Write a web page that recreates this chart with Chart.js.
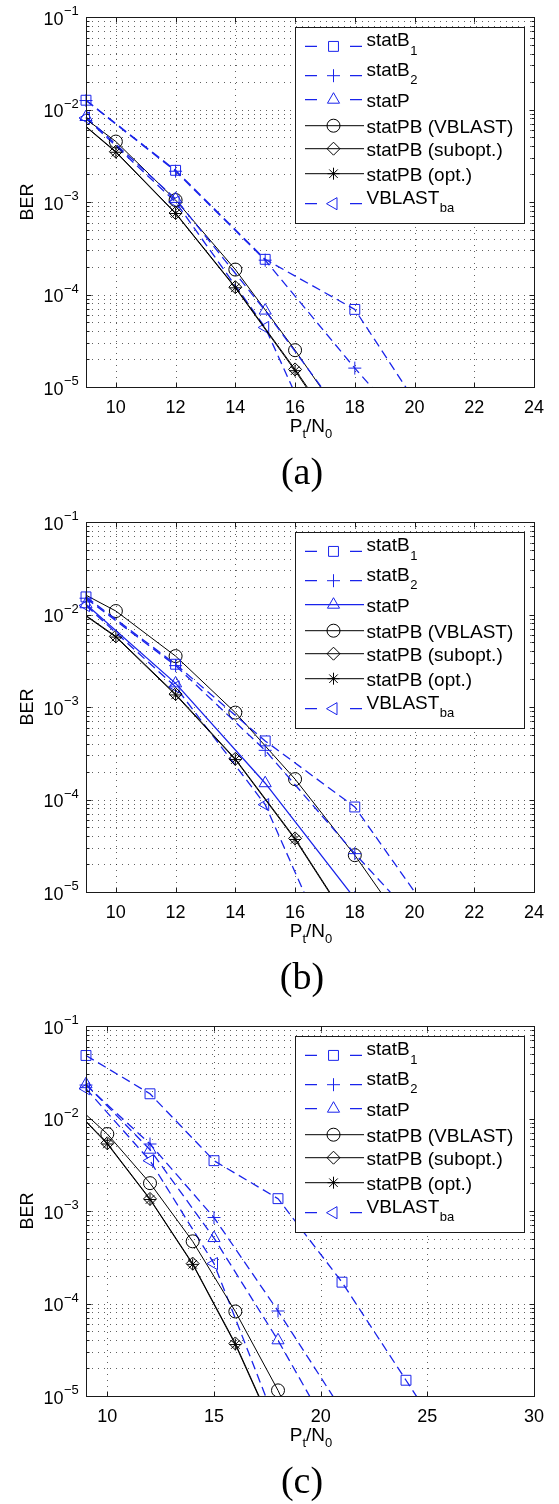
<!DOCTYPE html>
<html>
<head>
<meta charset="utf-8">
<script src="https://cdn.jsdelivr.net/npm/chart.js@4.4.1/dist/chart.umd.min.js"></script>
<style>
  html, body { margin: 0; padding: 0; background: #fff; overflow: hidden; }
  canvas { position: absolute; left: 0; }
</style>
</head>
<body>
<canvas id="chartA" width="559" height="495" style="top:0px"></canvas>
<canvas id="chartB" width="559" height="495" style="top:505px"></canvas>
<canvas id="chartC" width="559" height="495" style="top:1009px"></canvas>
<script>
// x positions of the simulated points (Pt/N0)
const xStep3 = [9, 12, 15, 18, 21, 24, 27];
const xStep2 = [8, 10, 12, 14, 16, 18, 20];

// tick labels
const yTickExponents = [-5, -4, -3, -2, -1];
const xTicksAB = [10, 12, 14, 16, 18, 20, 22, 24];
const xTicksC = [10, 15, 20, 25, 30];

// legend names (main text + subscript)
const seriesNames = ['statB', 'statB', 'statP', 'statPB (VBLAST)', 'statPB (subopt.)', 'statPB (opt.)', 'VBLAST'];
const seriesSubs = ['1', '2', '', '', '', '', 'ba'];

// BER values, panel (a)
const aStatB1 = [1.26e-2, 2.2e-3, 2.4e-4, 6.9e-5, 2.3e-6];
const aStatB2 = [1.25e-2, 2.15e-3, 2.35e-4, 1.6e-5, 1.3e-6];
const aStatP = [8.3e-3, 1.08e-3, 6.7e-5, 3.2e-6];
const aVblastBa = [8.1e-3, 1.0e-3, 4.4e-5, 3.2e-7];
const aPbVblast = [1.38e-2, 4.5e-3, 1.05e-3, 1.86e-4, 2.5e-5, 2.9e-6];
const aPbSubopt = [1.23e-2, 3.5e-3, 7.6e-4, 1.2e-4, 1.55e-5, 1.8e-6];
const aPbOpt = [1.22e-2, 3.45e-3, 7.5e-4, 1.18e-4, 1.5e-5, 1.7e-6];

// panel (b)
const bStatB1 = [1.55e-2, 2.9e-3, 4.3e-4, 8.3e-5, 3.5e-6];
const bStatB2 = [1.5e-2, 2.8e-3, 3.4e-4, 2.6e-5, 2.3e-6];
const bStatP = [1.29e-2, 1.8e-3, 1.5e-4, 8.5e-6];
const bVblastBa = [1.25e-2, 1.65e-3, 8.8e-5, 5.7e-7];
const bPbVblast = [2.4e-2, 1.09e-2, 3.55e-3, 8.7e-4, 1.66e-4, 2.5e-5, 3e-6];
const bPbSubopt = [1.64e-2, 5.8e-3, 1.38e-3, 2.75e-4, 3.8e-5, 3.8e-6];
const bPbOpt = [1.62e-2, 5.7e-3, 1.35e-3, 2.7e-4, 3.7e-5, 3.7e-6];

// panel (c)
const cStatB1 = [4.8e-2, 1.85e-2, 3.5e-3, 1.36e-3, 1.7e-4, 1.48e-5, 1.3e-6];
const cStatB2 = [2.3e-2, 5.3e-3, 8.5e-4, 8.3e-5, 7e-6];
const cStatP = [2.35e-2, 4.6e-3, 5.1e-4, 4.0e-5, 2.4e-6];
const cVblastBa = [2.1e-2, 3.5e-3, 2.7e-4, 4.5e-6];
const cPbVblast = [1.78e-2, 6.8e-3, 2.0e-3, 4.7e-4, 8.2e-5, 1.15e-5, 1.2e-6];
const cPbSubopt = [1.62e-2, 5.4e-3, 1.35e-3, 2.7e-4, 3.7e-5, 3.5e-6];
const cPbOpt = [1.6e-2, 5.3e-3, 1.33e-3, 2.65e-4, 3.6e-5, 3.4e-6];

const BLUE = 'rgb(25,35,235)';
const BLACK = '#000';
const FONT = '"Liberation Sans", Arial, sans-serif';

// line/marker style per series, same order as seriesNames
const seriesStyle = [
  { color: BLUE, dashed: true, marker: 'rect', r: 7, rot: 0, step: 3 },
  { color: BLUE, dashed: true, marker: 'cross', r: 6.5, rot: 0, step: 3 },
  { color: BLUE, dashed: true, marker: 'triangle', r: 7, rot: 0, step: 3 },
  { color: BLACK, dashed: false, marker: 'circle', r: 6.5, rot: 0, step: 2 },
  { color: BLACK, dashed: false, marker: 'rectRot', r: 6.5, rot: 0, step: 2 },
  { color: BLACK, dashed: false, marker: 'star', r: 6, rot: 0, step: 2 },
  { color: BLUE, dashed: true, marker: 'triangle', r: 7, rot: -90, step: 3 }
];

const panels = [
  { id: 'chartA', tag: '(a)', xMax: 24, xTicks: xTicksAB, solidStatP: false,
    series: [aStatB1, aStatB2, aStatP, aPbVblast, aPbSubopt, aPbOpt, aVblastBa] },
  { id: 'chartB', tag: '(b)', xMax: 24, xTicks: xTicksAB, solidStatP: true,
    series: [bStatB1, bStatB2, bStatP, bPbVblast, bPbSubopt, bPbOpt, bVblastBa] },
  { id: 'chartC', tag: '(c)', xMax: 30, xTicks: xTicksC, solidStatP: false,
    series: [cStatB1, cStatB2, cStatP, cPbVblast, cPbSubopt, cPbOpt, cVblastBa] }
];

function isDashed(i, panel) {
  return seriesStyle[i].dashed && !(i === 2 && panel.solidStatP);
}

function drawMarker(ctx, style, x, y, r, rot) {
  ctx.beginPath();
  switch (style) {
    case 'rect': {
      const s = r * Math.SQRT1_2;
      ctx.rect(x - s, y - s, 2 * s, 2 * s);
      break;
    }
    case 'circle':
      ctx.arc(x, y, r, 0, 2 * Math.PI);
      break;
    case 'triangle': {
      let a = rot * Math.PI / 180;
      for (let k = 0; k < 3; k++) {
        const px = x + Math.sin(a) * r, py = y - Math.cos(a) * r;
        if (k === 0) ctx.moveTo(px, py); else ctx.lineTo(px, py);
        a += 2 * Math.PI / 3;
      }
      ctx.closePath();
      break;
    }
    case 'rectRot':
      ctx.moveTo(x, y - r); ctx.lineTo(x + r, y); ctx.lineTo(x, y + r); ctx.lineTo(x - r, y);
      ctx.closePath();
      break;
    case 'cross':
      ctx.moveTo(x, y - r); ctx.lineTo(x, y + r);
      ctx.moveTo(x - r, y); ctx.lineTo(x + r, y);
      break;
    case 'star': {
      const d = r * Math.SQRT1_2;
      ctx.moveTo(x, y - r); ctx.lineTo(x, y + r);
      ctx.moveTo(x - r, y); ctx.lineTo(x + r, y);
      ctx.moveTo(x - d, y - d); ctx.lineTo(x + d, y + d);
      ctx.moveTo(x - d, y + d); ctx.lineTo(x + d, y - d);
      break;
    }
  }
  ctx.stroke();
}

// MATLAB-like axes: dotted grid, box, inward ticks, TeX-ish labels, legend
function matlabLook(panel) {
  return {
    id: 'matlabLook',
    beforeDatasetsDraw(chart) {
      const { ctx, chartArea: a, scales: { x, y } } = chart;
      ctx.save();
      ctx.strokeStyle = 'rgba(30,30,30,0.7)';
      ctx.lineWidth = 1;
      ctx.setLineDash([1, 5]);
      ctx.beginPath();
      yTickExponents.forEach(e => {
        for (let k = 1; k <= 9; k++) {
          if (e === -1 && k > 1) break;
          const py = Math.round(y.getPixelForValue(k * Math.pow(10, e))) + 0.5;
          ctx.moveTo(a.left, py); ctx.lineTo(a.right, py);
        }
      });
      panel.xTicks.forEach(v => {
        const px = Math.round(x.getPixelForValue(v)) + 0.5;
        ctx.moveTo(px, a.top); ctx.lineTo(px, a.bottom);
      });
      ctx.stroke();
      ctx.restore();
    },
    afterDatasetsDraw(chart) {
      const { ctx, chartArea: a, scales: { x, y } } = chart;
      const L = Math.round(a.left) + 0.5, R = Math.round(a.right) + 0.5;
      const T = Math.round(a.top) + 0.5, B = Math.round(a.bottom) + 0.5;
      ctx.save();
      ctx.strokeStyle = '#1a1a1a';
      ctx.lineWidth = 1;
      ctx.setLineDash([]);
      ctx.strokeRect(L, T, R - L, B - T);

      // inward ticks
      ctx.beginPath();
      panel.xTicks.forEach(v => {
        const px = Math.round(x.getPixelForValue(v)) + 0.5;
        ctx.moveTo(px, B); ctx.lineTo(px, B - 5);
        ctx.moveTo(px, T); ctx.lineTo(px, T + 5);
      });
      yTickExponents.forEach(e => {
        for (let k = 1; k <= 9; k++) {
          if (e === -1 && k > 1) break;
          const py = Math.round(y.getPixelForValue(k * Math.pow(10, e))) + 0.5;
          const len = k === 1 ? 5 : 3;
          ctx.moveTo(L, py); ctx.lineTo(L + len, py);
          ctx.moveTo(R, py); ctx.lineTo(R - len, py);
        }
      });
      ctx.stroke();

      ctx.fillStyle = '#000';
      // y tick labels 10^e
      yTickExponents.forEach(e => {
        const py = y.getPixelForValue(Math.pow(10, e));
        ctx.font = '18px ' + FONT;
        ctx.textAlign = 'right';
        ctx.textBaseline = 'alphabetic';
        ctx.fillText('10', a.left - 22.5, py + 7.5);
        ctx.font = '13px ' + FONT;
        ctx.textAlign = 'left';
        ctx.fillText('\u2212' + Math.abs(e), a.left - 22, py - 2);
      });
      // x tick labels
      ctx.font = '18px ' + FONT;
      ctx.textAlign = 'center';
      panel.xTicks.forEach(v => {
        ctx.fillText(String(v), x.getPixelForValue(v), a.bottom + 25.5);
      });

      // x axis title P_t/N_0
      const cx = (a.left + a.right) / 2 + 1;
      const parts = [['P', 19, 0], ['t', 13, 6], ['/', 19, 0], ['N', 19, 0], ['0', 13, 6]];
      let total = 0;
      parts.forEach(p => { ctx.font = p[1] + 'px ' + FONT; total += ctx.measureText(p[0]).width; });
      let tx = cx - total / 2;
      ctx.textAlign = 'left';
      parts.forEach(p => {
        ctx.font = p[1] + 'px ' + FONT;
        ctx.fillText(p[0], tx, a.bottom + 45 + p[2]);
        tx += ctx.measureText(p[0]).width;
      });

      // y axis title
      ctx.save();
      ctx.translate(26, (a.top + a.bottom) / 2);
      ctx.rotate(-Math.PI / 2);
      ctx.font = '18px ' + FONT;
      ctx.textAlign = 'center';
      ctx.fillText('BER', 0, 6.5);
      ctx.restore();

      // panel tag
      ctx.font = '38px "Liberation Serif", "DejaVu Serif", serif';
      ctx.textAlign = 'center';
      ctx.fillText(panel.tag, 302, a.bottom + 97);

      // legend
      const lx = a.left + 209, ly = a.top + 10, lw = 229, lh = 196;
      ctx.fillStyle = '#fff';
      ctx.fillRect(lx, ly, lw, lh);
      ctx.strokeStyle = '#1a1a1a';
      ctx.strokeRect(Math.round(lx) + 0.5, Math.round(ly) + 0.5, lw, lh);
      const rowY = [19.4, 48.7, 72.7, 98.7, 121.7, 146.7, 176.7];
      seriesNames.forEach((name, i) => {
        const st = seriesStyle[i];
        const sy = ly + rowY[i];
        ctx.strokeStyle = st.color;
        ctx.lineWidth = st.color === BLUE ? 1.3 : 1;
        ctx.beginPath();
        if (isDashed(i, panel)) {
          ctx.moveTo(lx + 10, sy); ctx.lineTo(lx + 22, sy);
          ctx.moveTo(lx + 55, sy); ctx.lineTo(lx + 67, sy);
        } else {
          ctx.moveTo(lx + 10, sy); ctx.lineTo(lx + 69, sy);
        }
        ctx.stroke();
        ctx.lineWidth = 1;
        drawMarker(ctx, st.marker, lx + 38.5, sy, st.r, st.rot);
        ctx.fillStyle = '#000';
        ctx.textAlign = 'left';
        ctx.font = '19px ' + FONT;
        const sub = seriesSubs[i];
        const textY = sub ? sy - 7 : sy;
        ctx.fillText(name, lx + 71.5, textY + 6.8);
        if (sub) {
          const w = ctx.measureText(name).width;
          ctx.font = '13px ' + FONT;
          ctx.fillText(sub, lx + 71.5 + w + 0.5, sy + 3.5 + 4.7);
        }
      });
      ctx.restore();
    }
  };
}

function makeDataset(values, i, panel) {
  const st = seriesStyle[i];
  const xs = st.step === 3 ? xStep3 : xStep2;
  return {
    label: seriesNames[i] + seriesSubs[i],
    data: values.map((v, k) => ({ x: xs[k], y: v })),
    borderColor: st.color,
    borderWidth: st.color === BLUE ? 1.3 : 1,
    borderDash: isDashed(i, panel) ? [9, 5] : [],
    pointStyle: st.marker,
    pointRadius: st.r,
    pointHoverRadius: st.r,
    pointRotation: st.rot,
    pointBorderColor: st.color,
    pointBackgroundColor: 'rgba(0,0,0,0)',
    pointBorderWidth: 1,
    tension: 0,
    fill: false,
    clip: st.step === 3 ? { left: 8, top: 8, right: 8, bottom: 0 } : { left: 0, top: 8, right: 8, bottom: 0 }
  };
}

panels.forEach(panel => {
  const ctx = document.getElementById(panel.id);
  new Chart(ctx, {
    type: 'line',
    data: { datasets: panel.series.map((vals, i) => makeDataset(vals, i, panel)) },
    options: {
      responsive: false,
      animation: false,
      devicePixelRatio: 1,
      events: [],
      layout: { padding: { left: 0, top: 17, right: 25, bottom: 0 } },
      plugins: { legend: { display: false }, tooltip: { enabled: false } },
      scales: {
        x: {
          type: 'linear', min: 9, max: panel.xMax,
          grid: { display: false }, border: { display: false }, ticks: { display: false },
          afterFit: s => { s.height = 108; }
        },
        y: {
          type: 'logarithmic', min: 1e-5, max: 1e-1,
          grid: { display: false }, border: { display: false }, ticks: { display: false },
          afterFit: s => { s.width = 86; }
        }
      }
    },
    plugins: [matlabLook(panel)]
  });
});
</script>
</body>
</html>
